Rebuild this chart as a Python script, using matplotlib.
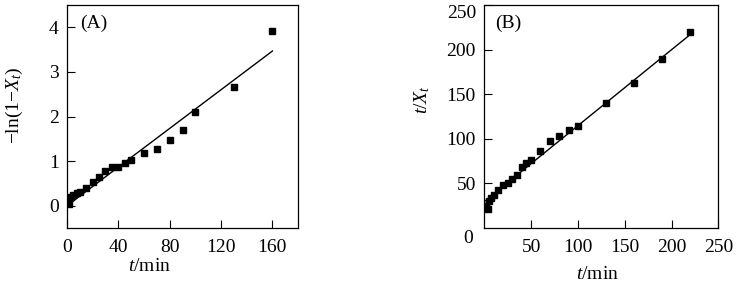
import numpy as np
import matplotlib
matplotlib.use('Agg')
import matplotlib.pyplot as plt

plt.rcParams['font.family'] = ['Liberation Serif', 'DejaVu Serif']
plt.rcParams['mathtext.fontset'] = 'custom'
plt.rcParams['mathtext.rm'] = 'Liberation Serif'
plt.rcParams['mathtext.it'] = 'Liberation Serif:italic'
plt.rcParams['font.size'] = 14

# (A) -ln(1-Xt) vs t
t_a = [1.5, 3, 5, 7.5, 10, 15, 20, 25, 30, 35, 40, 45, 50, 60, 70, 80, 90, 100, 130, 160]
y_a = [0.04, 0.19, 0.24, 0.29, 0.31, 0.40, 0.53, 0.65, 0.79, 0.86, 0.86, 0.95, 1.03,
       1.18, 1.27, 1.48, 1.69, 2.10, 2.66, 3.92]
fit_a_t = [0, 160]
fit_a_y = [0.0, 3.47]

# (B) t/Xt vs t
t_b = [1.5, 3.5, 5.5, 7.5, 10, 15, 20, 25, 30, 35, 40, 45, 50, 60, 70, 80, 90, 100,
       130, 160, 190, 220]
y_b = [24.9, 21.2, 30.4, 33.4, 36.8, 42.7, 47.9, 50.9, 54.6, 59.4, 68.7, 73.2, 76.9,
       86.5, 97.3, 102.9, 110.3, 114.0, 140.0, 163.0, 189.8, 219.8]
fit_b_t = [0, 220]
fit_b_y = [29.7, 217.0]

fig = plt.figure(figsize=(7.36, 2.83), dpi=100)
ax1 = fig.add_axes([0.091, 0.194, 0.314, 0.788])
ax2 = fig.add_axes([0.658, 0.194, 0.318, 0.788])

for ax in (ax1, ax2):
    ax.tick_params(direction='in', length=6, width=0.8, top=False, right=False)
    ax.tick_params(axis='x', pad=8)
    ax.tick_params(axis='y', pad=6)
    for s in ax.spines.values():
        s.set_linewidth(0.9)

ax1.plot(fit_a_t, fit_a_y, color='black', lw=1.0)
ax1.plot(t_a, y_a, 's', color='black', ms=4)
ax1.set_xlim(0, 180)
ax1.set_ylim(-0.5, 4.5)
ax1.set_xticks([0, 40, 80, 120, 160])
ax1.set_yticks([0, 1, 2, 3, 4])
ax1.set_xlabel(r'$\it{t}$/min')
ax1.xaxis.set_label_coords(0.355, -0.135)
ax1.set_ylabel(r'$-$ln(1$-$$\it{X_t}$)')
ax1.yaxis.set_label_coords(-0.183, 0.55)
ax1.text(0.056, 0.92, '(A)', transform=ax1.transAxes, ha='left', va='center')

ax2.plot(fit_b_t, fit_b_y, color='black', lw=1.0)
ax2.plot(t_b, y_b, 's', color='black', ms=4)
ax2.set_xlim(0, 250)
ax2.set_ylim(0, 250)
ax2.set_xticks([50, 100, 150, 200, 250])
ax2.set_yticks([50, 100, 150, 200, 250])
ax2.get_yticklabels()[-1].set_va('top')
ax2.text(-0.068, -0.045, '0', transform=ax2.transAxes, ha='center', va='center')
ax2.set_xlabel(r'$\it{t}$/min')
ax2.xaxis.set_label_coords(0.483, -0.17)
ax2.set_ylabel(r'$\it{t/X_t}$')
ax2.yaxis.set_label_coords(-0.225, 0.574)
ax2.text(0.047, 0.92, '(B)', transform=ax2.transAxes, ha='left', va='center')

fig.savefig('out.png', dpi=100)
